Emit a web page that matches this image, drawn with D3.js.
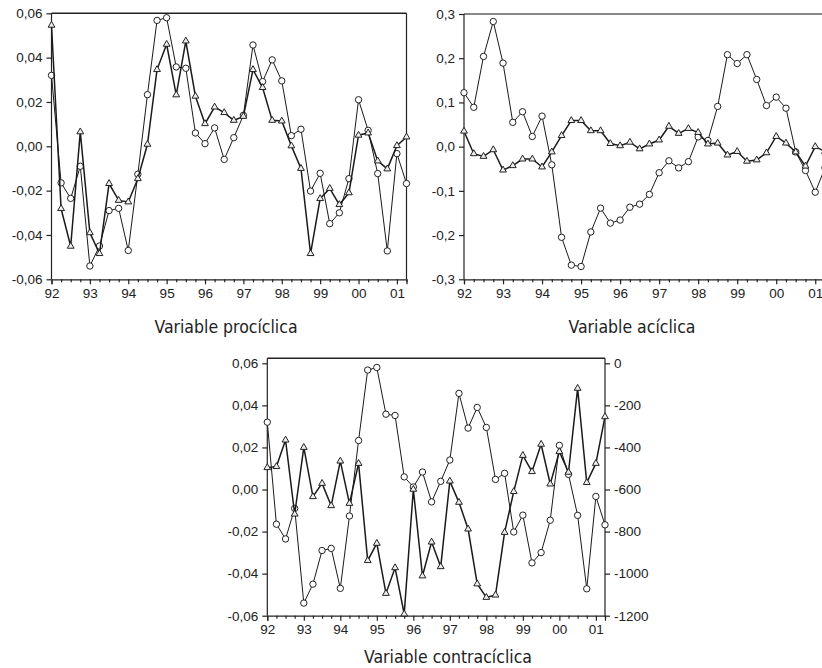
<!DOCTYPE html>
<html>
<head>
<meta charset="utf-8">
<script src="https://cdn.jsdelivr.net/npm/d3@7/dist/d3.min.js"></script>
<style>
body { margin: 0; background: #fff; }
svg { display: block; }
text { font-family: "Liberation Sans", Arial, sans-serif; fill: #222; }
.titulo { font-family: "DejaVu Sans Condensed", "DejaVu Sans", sans-serif; font-size: 17.5px; }
</style>
</head>
<body>
<script>
var w = 822;
var h = 668;

//Datos (trimestres 92T1 - 01T2)
//************** */
var years = ["92", "93", "94", "95", "96", "97", "98", "99", "00", "01"];

// ciclo de referencia (circulos), paneles 1 y 3
var ciclo = [0.032, -0.0165, -0.0235, -0.009, -0.054, -0.045, -0.029, -0.028, -0.047, -0.0126,
    0.0233, 0.0568, 0.058, 0.0358, 0.0352, 0.006, 0.0012, 0.0083, -0.0059, 0.0039,
    0.014, 0.0457, 0.0292, 0.039, 0.0295, 0.0048, 0.0077, -0.0202, -0.0122, -0.0349,
    -0.030, -0.0146, 0.021, 0.0072, -0.0123, -0.0472, -0.0033, -0.0168];

var prociclica = [0.0546, -0.0281, -0.0451, 0.0065, -0.039, -0.0484, -0.0168, -0.0244, -0.0251, -0.0146,
    0.0009, 0.0346, 0.046, 0.0232, 0.0475, 0.0226, 0.0102, 0.0177, 0.0152, 0.0117,
    0.0135, 0.0346, 0.0265, 0.0117, 0.0114, 0.0002, -0.010, -0.0484, -0.0236, -0.019,
    -0.0263, -0.021, 0.005, 0.006, -0.0066, -0.0102, 0.0003, 0.0042];

// panel 2
var cicloAc = [0.122, 0.089, 0.204, 0.283, 0.189, 0.055, 0.079, 0.023, 0.069, -0.041,
    -0.205, -0.268, -0.271, -0.193, -0.139, -0.173, -0.166, -0.137, -0.130, -0.108,
    -0.059, -0.032, -0.048, -0.034, 0.022, 0.014, 0.091, 0.208, 0.188, 0.208,
    0.152, 0.093, 0.112, 0.087, -0.012, -0.054, -0.103, -0.048];

var aciclica = [0.035, -0.016, -0.022, -0.007, -0.053, -0.043, -0.028, -0.028, -0.046, -0.012,
    0.025, 0.059, 0.059, 0.036, 0.036, 0.007, 0.002, 0.010, -0.005, 0.006,
    0.015, 0.046, 0.030, 0.041, 0.032, 0.006, 0.008, -0.019, -0.011, -0.033,
    -0.030, -0.014, 0.023, 0.008, -0.012, -0.044, 0.000, -0.011];

// panel 3, eje derecho
var contraciclica = [-496, -491, -365, -717, -400, -634, -571, -677, -465, -666,
    -476, -938, -856, -1094, -972, -1192, -599, -1011, -850, -967,
    -560, -661, -788, -1049, -1113, -1102, -804, -610, -438, -515,
    -385, -574, -420, -518, -119, -567, -476, -254];

var ticksL = [0.06, 0.04, 0.02, 0, -0.02, -0.04, -0.06];
var ticksAc = [0.3, 0.2, 0.1, 0, -0.1, -0.2, -0.3];
var ticksR = [0, -200, -400, -600, -800, -1000, -1200];

var svg = d3.select("body")
    .append("svg")
    .attr("width", w)
    .attr("height", h);

function coma(d) {
    return d.replace(".", ",").replace("\u2212", "-");
}

//dibuja un panel
//************** */
function panel(p) {
    var g = svg.append("g");
    var x = d3.scaleLinear().domain([0, 37]).range([p.left, p.right]);
    var y = d3.scaleLinear().domain([-p.lim, p.lim]).range([p.bottom, p.top]);

    // marco superior / derecho
    g.append("line")
        .attr("x1", p.left).attr("x2", p.right)
        .attr("y1", p.boxTop).attr("y2", p.boxTop)
        .style("stroke", p.topColor).style("stroke-width", p.topWidth);
    g.append("line")
        .attr("x1", p.right).attr("x2", p.right)
        .attr("y1", p.boxTop).attr("y2", p.bottom)
        .style("stroke", "#222").style("stroke-width", 1.2);

    // eje y
    var ay = g.append("g")
        .attr("transform", "translate(" + p.left + ",0)")
        .call(d3.axisLeft(y).tickValues(p.ticks).tickSize(5).tickPadding(4)
            .tickFormat(function (d) { return coma(d3.format(p.fmt)(d)); }));
    ay.select(".domain").attr("d", "M0," + p.boxTop + "V" + p.bottom);

    // eje x: trimestres
    var ax = g.append("g")
        .attr("transform", "translate(0," + p.bottom + ")")
        .call(d3.axisBottom(x).tickValues(d3.range(0, 38, 4)).tickSize(5).tickPadding(4)
            .tickFormat(function (d) { return years[d / 4]; }));
    g.append("g")
        .attr("transform", "translate(0," + p.bottom + ")")
        .call(d3.axisBottom(x).tickValues(d3.range(0, 38).filter(function (d) { return d % 4; }))
            .tickSize(3).tickFormat(""))
        .select(".domain").remove();

    g.selectAll(".tick text").style("font-size", "13.5px").style("fill", "#222");
    g.selectAll(".domain, .tick line").style("stroke", "#222").style("stroke-width", 1.2);

    // titulo
    g.append("text")
        .attr("class", "titulo")
        .attr("x", p.titleX)
        .attr("y", p.titleY)
        .attr("text-anchor", "middle")
        .text(p.title);

    return { g: g, x: x, y: y };
}

function serie(g, x, y, data, kind) {
    var line = d3.line()
        .x(function (d, i) { return x(i); })
        .y(function (d) { return y(d); });
    g.append("path")
        .datum(data)
        .attr("d", line)
        .style("fill", "none")
        .style("stroke", "#1a1a1a")
        .style("stroke-width", kind == "tri" ? 1.5 : 1);
    if (kind == "tri") {
        g.selectAll(null)
            .data(data)
            .enter()
            .append("path")
            .attr("transform", function (d, i) { return "translate(" + x(i) + "," + y(d) + ")"; })
            .attr("d", d3.symbol().type(d3.symbolTriangle).size(20))
            .style("fill", "#eee")
            .style("stroke", "#222")
            .style("stroke-width", 1);
    } else {
        g.selectAll(null)
            .data(data)
            .enter()
            .append("circle")
            .attr("cx", function (d, i) { return x(i); })
            .attr("cy", function (d) { return y(d); })
            .attr("r", 3.2)
            .style("fill", "#fff")
            .style("stroke", "#222")
            .style("stroke-width", 1);
    }
}

//************** */
var p1 = panel({
    left: 51.5, right: 406.5, top: 13.3, bottom: 279.3, boxTop: 13.3, lim: 0.06,
    ticks: ticksL, fmt: ".2f", topColor: "#222", topWidth: 1.4,
    title: "Variable procíclica", titleX: 226, titleY: 333
});
serie(p1.g, p1.x, p1.y, ciclo, "circ");
serie(p1.g, p1.x, p1.y, prociclica, "tri");

var p2 = panel({
    left: 464, right: 825, top: 14, bottom: 279.3, boxTop: 14, lim: 0.3,
    ticks: ticksAc, fmt: ".1f", topColor: "#888", topWidth: 2,
    title: "Variable acíclica", titleX: 632, titleY: 333
});
serie(p2.g, p2.x, p2.y, cicloAc, "circ");
serie(p2.g, p2.x, p2.y, aciclica, "tri");

var p3 = panel({
    left: 267.3, right: 605, top: 363.3, bottom: 615.7, boxTop: 358.3, lim: 0.06,
    ticks: ticksL, fmt: ".2f", topColor: "#222", topWidth: 1.4,
    title: "Variable contracíclica", titleX: 448, titleY: 663
});
// eje derecho
var yR = d3.scaleLinear().domain([-1200, 0]).range([615.7, 363.3]);
var aR = p3.g.append("g")
    .attr("transform", "translate(605,0)")
    .call(d3.axisRight(yR).tickValues(ticksR).tickSize(5).tickPadding(4)
        .tickFormat(function (d) { return coma(String(d)); }));
aR.select(".domain").remove();
aR.selectAll(".tick text").style("font-size", "13.5px").style("fill", "#222");
aR.selectAll(".tick line").style("stroke", "#222").style("stroke-width", 1.2);

serie(p3.g, p3.x, p3.y, ciclo, "circ");
serie(p3.g, p3.x, yR, contraciclica, "tri");
</script>
</body>
</html>
